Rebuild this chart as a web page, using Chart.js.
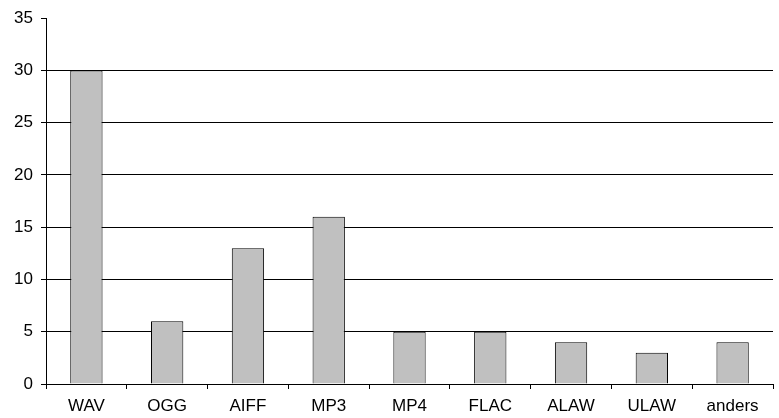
<!DOCTYPE html>
<html>
<head>
<meta charset="utf-8">
<script src="https://cdn.jsdelivr.net/npm/chart.js@4/dist/chart.umd.min.js"></script>
<style>
  html, body { margin: 0; padding: 0; background: #fff; }
  #wrap { width: 779px; height: 418px; }
</style>
</head>
<body>
<div id="wrap"><canvas id="c" width="779" height="418"></canvas></div>
<script>
// Audio formats and how often each was counted
const formats = ['WAV', 'OGG', 'AIFF', 'MP3', 'MP4', 'FLAC', 'ALAW', 'ULAW', 'anders'];
const counts = [30, 6, 13, 16, 5, 5, 4, 3, 4];
const yTicks = [0, 5, 10, 15, 20, 25, 30, 35];
const yMax = 35;

const FONT = { family: '"Liberation Sans", Arial, sans-serif', size: 17 };

new Chart(document.getElementById('c'), {
  type: 'bar',
  data: {
    labels: formats,
    datasets: [{
      data: counts,
      backgroundColor: '#c0c0c0',
      borderColor: '#000',
      borderWidth: 1,
      barPercentage: 0.4,
      categoryPercentage: 1.0
    }]
  },
  options: {
    responsive: false,
    animation: false,
    devicePixelRatio: 1,
    layout: { padding: { top: 17, right: 6, left: 0, bottom: 0 } },
    plugins: { legend: { display: false }, tooltip: { enabled: false } },
    scales: {
      x: {
        offset: true,
        grid: { offset: true, drawOnChartArea: false, drawTicks: true, tickLength: 5, color: '#000' },
        border: { display: true, color: '#000', width: 1 },
        ticks: { color: '#000', font: FONT, padding: 7, maxRotation: 0, autoSkip: false },
        afterFit: s => { s.height = 34; }
      },
      y: {
        min: 0,
        max: yMax,
        afterBuildTicks: s => { s.ticks = yTicks.map(v => ({ value: v })); },
        grid: {
          // the top value gets only its tick mark, no line across the plot
          color: ctx => (ctx.tick && ctx.tick.value === yMax) ? 'rgba(0,0,0,0)' : '#000',
          tickColor: '#000',
          lineWidth: 1,
          drawTicks: true,
          tickLength: 5
        },
        border: { display: true, color: '#000', width: 1 },
        ticks: { color: '#000', font: FONT, padding: 8 },
        afterFit: s => { s.width = 46; }
      }
    }
  }
});
</script>
</body>
</html>
